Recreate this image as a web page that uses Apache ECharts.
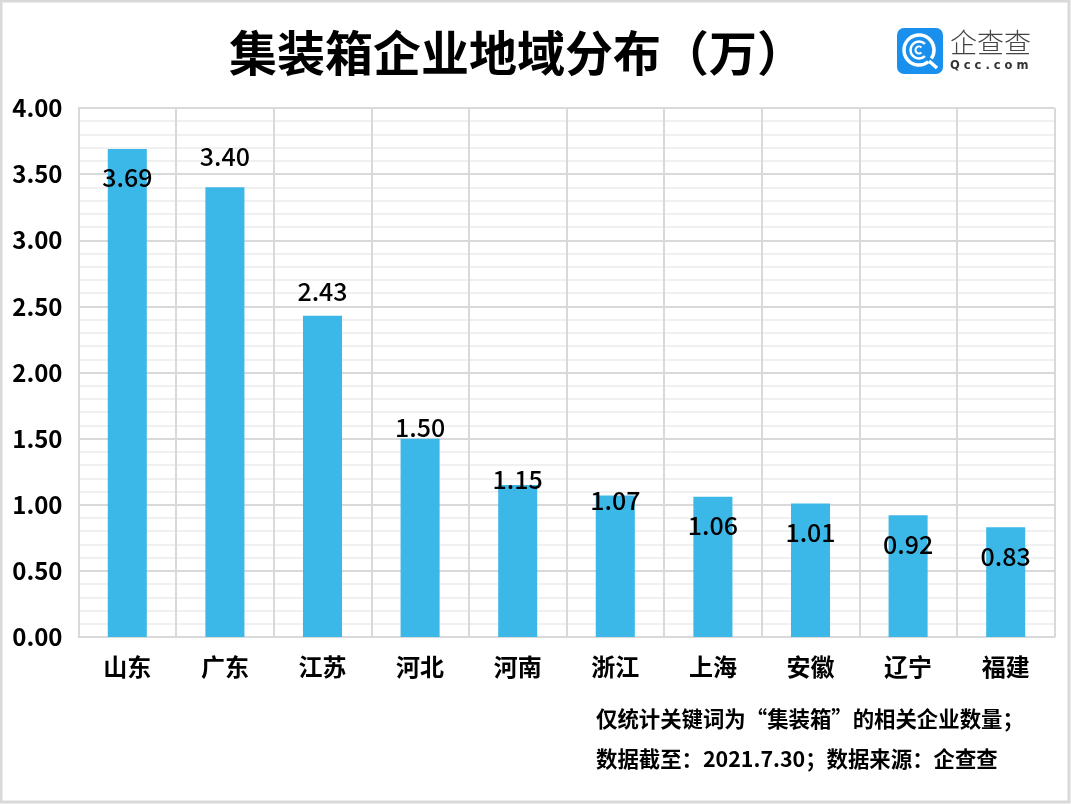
<!DOCTYPE html>
<html><head><meta charset="utf-8">
<style>html,body{margin:0;padding:0;background:#fff}#c{width:1071px;height:804px}</style>
<script src="https://cdn.jsdelivr.net/npm/echarts@6/dist/echarts.min.js"></script>
</head><body><div id="c"></div>
<script>
const titleText = '集装箱企业地域分布（万）';
const categories = ['山东','广东','江苏','河北','河南','浙江','上海','安徽','辽宁','福建'];
const values = [3.69,3.40,2.43,1.50,1.15,1.07,1.06,1.01,0.92,0.83];
const labelShift = [29,-31,-24,-11,-5,5,29,29,29,29];
const noteLines = ['仅统计关键词为“集装箱”的相关企业数量；','数据截至：2021.7.30；数据来源：企查查'];
const font = '"Noto Sans CJK SC","Noto Sans",sans-serif';
const chart = echarts.init(document.getElementById('c'), null, {renderer:'canvas'});
chart.setOption({
  animation:false,
  backgroundColor:'#fff',
  grid:{left:78.5,right:16.5,top:108,bottom:167,containLabel:false},
  xAxis:{type:'category',data:categories,
    axisLine:{lineStyle:{color:'#d9d9d9',width:2}},
    axisTick:{show:false},
    splitLine:{show:true,lineStyle:{color:'#d9d9d9',width:2}},
    axisLabel:{color:'#000',fontFamily:font,fontSize:24,fontWeight:'bold',margin:18,interval:0}},
  yAxis:{type:'value',min:0,max:4,interval:0.5,
    axisLine:{show:true,lineStyle:{color:'#d9d9d9',width:2}},
    axisTick:{show:false},
    minorTick:{show:false},
    splitLine:{show:true,lineStyle:{color:'#d9d9d9',width:2}},
    minorSplitLine:{show:true,lineStyle:{color:'#f0f0f0',width:2}},
    axisLabel:{color:'#000',fontFamily:font,fontSize:24,fontWeight:'bold',margin:16,padding:[0,0,2,0],
      formatter:v=>v.toFixed(2)}},
  series:[{type:'bar',barWidth:'40%',
    itemStyle:{color:'#3bb8e8'},
    data:values.map((v,i)=>({value:v,label:{offset:[0,labelShift[i]]}})),
    label:{show:true,position:['50%',0],align:'center',verticalAlign:'middle',
      color:'#000',fontFamily:font,fontSize:25,fontWeight:500,
      formatter:p=>p.value.toFixed(2)}}],
  graphic:[
    {type:'rect',z:-1,shape:{x:1,y:1,width:1068,height:801},style:{fill:'none',stroke:'#d9d9d9',lineWidth:3}},
    {type:'text',x:517,y:53,style:{text:titleText,fill:'#000',font:'bold 48px '+font,textAlign:'center',textVerticalAlign:'middle'}},
    {type:'rect',shape:{x:897,y:28,width:46,height:46,r:7},style:{fill:'#1a90ee'}},
    {type:'arc',shape:{cx:919,cy:50,r:15,startAngle:0.9,endAngle:0.6,clockwise:true},style:{fill:'none',stroke:'#fff',lineWidth:3.5}},
    {type:'arc',shape:{cx:919,cy:50,r:8.5,startAngle:0.8,endAngle:-0.8,clockwise:true},style:{fill:'none',stroke:'#fff',lineWidth:2.5}},
    {type:'arc',shape:{cx:919,cy:50,r:3.5,startAngle:0.8,endAngle:-0.8,clockwise:true},style:{fill:'none',stroke:'#fff',lineWidth:2}},
    {type:'line',shape:{x1:929,y1:61,x2:937,y2:68},style:{stroke:'#fff',lineWidth:3.5}},
    {type:'text',x:950,y:43,style:{text:'企查查',fill:'#444',font:'300 27px '+font,textVerticalAlign:'middle'}},
    {type:'text',x:950,y:66,style:{text:'Q c c . c o m',fill:'#333',font:'bold 11.5px "DejaVu Sans",sans-serif',textVerticalAlign:'middle'}},
    {type:'text',x:596,y:719,style:{text:noteLines[0],fill:'#000',font:'bold 21.4px '+font,textVerticalAlign:'middle'}},
    {type:'text',x:596,y:759,style:{text:noteLines[1],fill:'#000',font:'bold 21.4px '+font,textVerticalAlign:'middle'}}
  ]
});
</script></body></html>
